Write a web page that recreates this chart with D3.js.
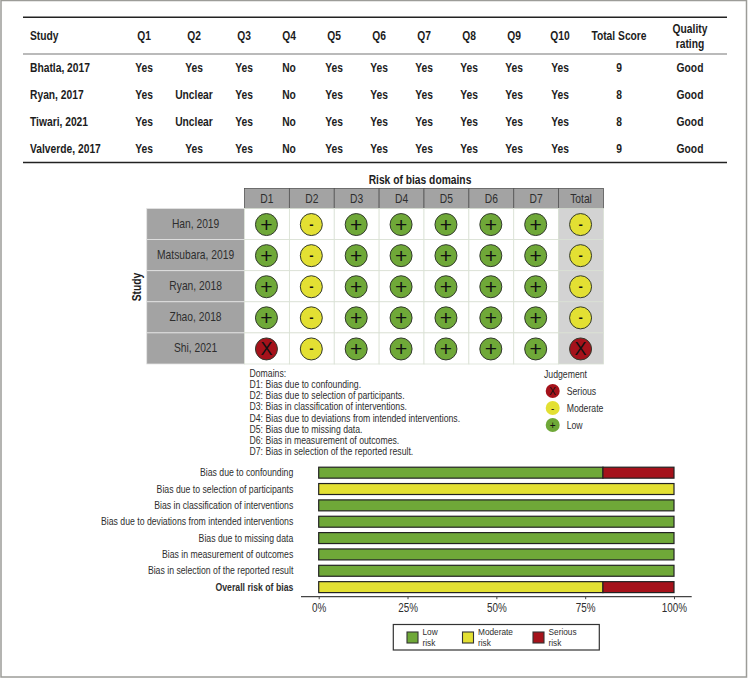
<!DOCTYPE html>
<html>
<head>
<meta charset="utf-8">
<script src="https://cdn.jsdelivr.net/npm/d3@7"></script>
<style>
  html, body { margin: 0; padding: 0; background: #fff; }
  svg { display: block; }
  text { font-family: "Liberation Sans", sans-serif; }
</style>
</head>
<body>
<svg id="chart" width="750" height="678"></svg>
<script>
// Top table
const tableColumns = ['Study', 'Q1', 'Q2', 'Q3', 'Q4', 'Q5', 'Q6', 'Q7', 'Q8', 'Q9', 'Q10', 'Total Score', 'Quality rating'];
const tableRows = [
  ['Bhatla, 2017', 'Yes', 'Yes', 'Yes', 'No', 'Yes', 'Yes', 'Yes', 'Yes', 'Yes', 'Yes', '9', 'Good'],
  ['Ryan, 2017', 'Yes', 'Unclear', 'Yes', 'No', 'Yes', 'Yes', 'Yes', 'Yes', 'Yes', 'Yes', '8', 'Good'],
  ['Tiwari, 2021', 'Yes', 'Unclear', 'Yes', 'No', 'Yes', 'Yes', 'Yes', 'Yes', 'Yes', 'Yes', '8', 'Good'],
  ['Valverde, 2017', 'Yes', 'Yes', 'Yes', 'No', 'Yes', 'Yes', 'Yes', 'Yes', 'Yes', 'Yes', '9', 'Good']
];
const tableColCenters = [30, 144, 194, 244, 289, 334, 379, 424, 469, 514, 560, 619, 690];

// Traffic light plot
const domains = ['D1', 'D2', 'D3', 'D4', 'D5', 'D6', 'D7', 'Total'];
const studies = ['Han, 2019', 'Matsubara, 2019', 'Ryan, 2018', 'Zhao, 2018', 'Shi, 2021'];
const judgements = [
  ['L', 'M', 'L', 'L', 'L', 'L', 'L', 'M'],
  ['L', 'M', 'L', 'L', 'L', 'L', 'L', 'M'],
  ['L', 'M', 'L', 'L', 'L', 'L', 'L', 'M'],
  ['L', 'M', 'L', 'L', 'L', 'L', 'L', 'M'],
  ['S', 'M', 'L', 'L', 'L', 'L', 'L', 'S']
];
const domainNotes = [
  'Domains:',
  'D1: Bias due to confounding.',
  'D2: Bias due to selection of participants.',
  'D3: Bias in classification of interventions.',
  'D4: Bias due to deviations from intended interventions.',
  'D5: Bias due to missing data.',
  'D6: Bias in measurement of outcomes.',
  'D7: Bias in selection of the reported result.'
];
const judgementKeys = ['S', 'M', 'L'];
const judgementNames = ['Serious', 'Moderate', 'Low'];

// Summary bars
const biasLabels = [
  'Bias due to confounding',
  'Bias due to selection of participants',
  'Bias in classification of interventions',
  'Bias due to deviations from intended interventions',
  'Bias due to missing data',
  'Bias in measurement of outcomes',
  'Bias in selection of the reported result',
  'Overall risk of bias'
];
const lowRisk = [80, 0, 100, 100, 100, 100, 100, 0];
const moderateRisk = [0, 100, 0, 0, 0, 0, 0, 80];
const seriousRisk = [20, 0, 0, 0, 0, 0, 0, 20];
const percentTicks = [0, 25, 50, 75, 100];
const riskNames = ['Low', 'Moderate', 'Serious'];

const GREEN = '#6fa838', YELLOW = '#e3e033', RED = '#a5121b', INK = '#1c1c1c', SOFT = '#2e2e2e';
const judgementColor = d3.scaleOrdinal().domain(['L', 'M', 'S']).range([GREEN, YELLOW, RED]);
const judgementSymbol = { L: '+', M: '-', S: 'X' };

const svg = d3.select('#chart');

// outer frame
svg.append('rect')
  .attr('x', 1).attr('y', 0.5).attr('width', 745.5).attr('height', 676.5)
  .attr('fill', '#fff').attr('stroke', '#9c9c98').attr('stroke-width', 1.5);

// ---- table ----
const table = svg.append('g').attr('font-size', 13).attr('font-weight', 700).attr('fill', INK);
const rowY = d3.scalePoint().domain(d3.range(tableRows.length)).range([68, 149]);

[[17.3, 1.5, '#222'], [54, 1.2, '#777'], [162.5, 1.5, '#222']].forEach(([y, w, c]) => {
  table.append('line').attr('x1', 23).attr('x2', 727).attr('y1', y).attr('y2', y)
    .attr('stroke', c).attr('stroke-width', w);
});

tableColumns.forEach((name, i) => {
  const t = table.append('text')
    .attr('x', tableColCenters[i])
    .attr('text-anchor', i === 0 ? 'start' : 'middle');
  if (name === 'Quality rating') {
    t.append('tspan').attr('x', tableColCenters[i]).attr('y', 33).text('Quality');
    t.append('tspan').attr('x', tableColCenters[i]).attr('y', 48).text('rating');
  } else {
    t.attr('y', 40).text(name);
  }
});

tableRows.forEach((row, r) => {
  table.selectAll(null).data(row).join('text')
    .attr('x', (d, i) => tableColCenters[i])
    .attr('y', rowY(r) + 3.8)
    .attr('text-anchor', (d, i) => i === 0 ? 'start' : 'middle')
    .text(d => d);
});

// ---- traffic light plot ----
const tx = d3.scaleBand().domain(domains).range([244.5, 603.5]);
const ty = d3.scaleBand().domain(studies).range([208.5, 364]);
const traffic = svg.append('g');

traffic.append('text').attr('x', 420).attr('y', 183.5).attr('text-anchor', 'middle')
  .attr('font-size', 13).attr('font-weight', 700).attr('fill', INK).text('Risk of bias domains');
traffic.append('text').attr('transform', 'translate(141,287) rotate(-90)').attr('text-anchor', 'middle')
  .attr('font-size', 13).attr('font-weight', 700).attr('fill', INK).text('Study');

// domain header
traffic.selectAll('.head').data(domains).join('rect').attr('class', 'head')
  .attr('x', d => tx(d)).attr('y', 188.5).attr('width', tx.bandwidth()).attr('height', 20)
  .attr('fill', '#a3a3a3').attr('stroke', '#555').attr('stroke-width', 0.8);
traffic.selectAll('.headLabel').data(domains).join('text').attr('class', 'headLabel')
  .attr('x', d => tx(d) + tx.bandwidth() / 2).attr('y', 203)
  .attr('text-anchor', 'middle').attr('font-size', 13).attr('fill', SOFT).text(d => d);

// study labels
traffic.selectAll('.study').data(studies).join('rect').attr('class', 'study')
  .attr('x', 146.7).attr('y', d => ty(d)).attr('width', tx.range()[0] - 146.7).attr('height', ty.bandwidth())
  .attr('fill', '#a3a3a3').attr('stroke', '#e4e4e4').attr('stroke-width', 0.8);
traffic.selectAll('.studyLabel').data(studies).join('text').attr('class', 'studyLabel')
  .attr('x', (146.7 + tx.range()[0]) / 2).attr('y', d => ty(d) + ty.bandwidth() / 2 + 4)
  .attr('text-anchor', 'middle').attr('font-size', 13).attr('fill', SOFT).text(d => d);

const cells = judgements.flatMap((row, r) => row.map((j, c) => ({ study: studies[r], domain: domains[c], j })));

traffic.selectAll('.cell').data(cells).join('rect').attr('class', 'cell')
  .attr('x', d => tx(d.domain)).attr('y', d => ty(d.study))
  .attr('width', tx.bandwidth()).attr('height', ty.bandwidth())
  .attr('fill', d => d.domain === 'Total' ? '#d3d3d3' : '#fff')
  .attr('stroke', '#d9e0d4').attr('stroke-width', 0.8);

traffic.selectAll('.dot').data(cells).join('circle').attr('class', 'dot')
  .attr('cx', d => tx(d.domain) + tx.bandwidth() / 2 - 0.5).attr('cy', d => ty(d.study) + ty.bandwidth() / 2 + 0.5)
  .attr('r', 11)
  .attr('fill', d => judgementColor(d.j)).attr('stroke', '#333a2e').attr('stroke-width', 1);

traffic.selectAll('.symbol').data(cells).join('text').attr('class', 'symbol')
  .attr('x', d => tx(d.domain) + tx.bandwidth() / 2 - 0.5)
  .attr('y', d => ty(d.study) + ty.bandwidth() / 2 + (d.j === 'L' ? 7.5 : d.j === 'S' ? 7 : 4.5))
  .attr('text-anchor', 'middle').attr('fill', '#111')
  .attr('font-size', d => d.j === 'L' ? 21 : d.j === 'S' ? 18 : 13)
  .attr('font-weight', d => d.j === 'M' ? 700 : 400)
  .text(d => judgementSymbol[d.j]);

// domain notes
const noteY = d3.scalePoint().domain(domainNotes).range([377, 455]);
svg.selectAll('.note').data(domainNotes).join('text').attr('class', 'note')
  .attr('x', 249.5).attr('y', d => noteY(d))
  .attr('font-size', 11).attr('fill', SOFT).text(d => d);

// judgement legend
const legendY = d3.scalePoint().domain(judgementKeys).range([391, 425]);
svg.append('text').attr('x', 544).attr('y', 378).attr('font-size', 11).attr('fill', SOFT).text('Judgement');
svg.selectAll('.jdot').data(judgementKeys).join('circle').attr('class', 'jdot')
  .attr('cx', 552.7).attr('cy', d => legendY(d)).attr('r', 7).attr('fill', d => judgementColor(d));
svg.selectAll('.jsym').data(judgementKeys).join('text').attr('class', 'jsym')
  .attr('x', 552.7).attr('y', d => legendY(d) + 3.5)
  .attr('text-anchor', 'middle')
  .attr('font-size', 10).attr('fill', '#111').text(d => judgementSymbol[d]);
svg.selectAll('.jname').data(judgementKeys).join('text').attr('class', 'jname')
  .attr('x', 566.7).attr('y', d => legendY(d) + 4)
  .attr('font-size', 11).attr('fill', SOFT).text((d, i) => judgementNames[i]);

// ---- summary bars ----
const bx = d3.scaleLinear().domain([0, 100]).range([318.7, 674]);
const by = d3.scaleBand().domain(biasLabels).range([464.5, 595.3]).paddingInner(0.33).paddingOuter(0.165);
const barRows = biasLabels.map((label, i) => ({ label, Low: lowRisk[i], Moderate: moderateRisk[i], Serious: seriousRisk[i] }));
const stacked = d3.stack().keys(riskNames)(barRows);
const riskColor = d3.scaleOrdinal().domain(riskNames).range([GREEN, YELLOW, RED]);

const bars = svg.append('g');
bars.selectAll('g').data(stacked).join('g')
  .attr('fill', d => riskColor(d.key))
  .selectAll('rect').data(d => d.filter(s => s[1] > s[0])).join('rect')
  .attr('x', d => bx(d[0])).attr('y', d => by(d.data.label))
  .attr('width', d => bx(d[1]) - bx(d[0])).attr('height', by.bandwidth())
  .attr('stroke', '#222').attr('stroke-width', 1.2);

svg.selectAll('.biasLabel').data(biasLabels).join('text').attr('class', 'biasLabel')
  .attr('x', 293.3).attr('y', d => by(d) + by.bandwidth() / 2 + 3.5)
  .attr('text-anchor', 'end').attr('font-size', 11).attr('fill', SOFT)
  .attr('font-weight', d => d === 'Overall risk of bias' ? 700 : 400)
  .text(d => d);

const axis = svg.append('g').attr('transform', 'translate(0,596.7)')
  .call(d3.axisBottom(bx).tickValues(percentTicks).tickFormat(d => d + '%').tickSize(2.5).tickPadding(3.5));
axis.select('.domain').remove();
axis.append('line').attr('x1', 301).attr('x2', 691.7).attr('stroke', '#444').attr('stroke-width', 1.2);
axis.selectAll('.tick line').attr('stroke', '#444');
axis.selectAll('.tick text').attr('font-size', 12.5).attr('fill', SOFT);

// risk legend
svg.append('rect').attr('x', 393.3).attr('y', 624.5).attr('width', 206).attr('height', 25.5)
  .attr('fill', '#fff').attr('stroke', '#333').attr('stroke-width', 1.2);
const riskX = d3.scaleOrdinal().domain(riskNames).range([407, 462.5, 533]);
const riskItems = svg.selectAll('.riskItem').data(riskNames).join('g').attr('class', 'riskItem')
  .attr('transform', d => `translate(${riskX(d)},632)`);
riskItems.append('rect').attr('width', 11).attr('height', 11)
  .attr('fill', d => riskColor(d)).attr('stroke', '#333').attr('stroke-width', 1.1);
const riskText = riskItems.append('text').attr('font-size', 9).attr('fill', SOFT);
riskText.append('tspan').attr('x', 15.5).attr('y', 3).text(d => d);
riskText.append('tspan').attr('x', 15.5).attr('y', 13.5).text('risk');

// no narrow font installed, so squeeze the text to the reference's condensed look
function squeeze(el, factor) {
  const len = el.getComputedTextLength();
  d3.select(el).attr('textLength', len * factor).attr('lengthAdjust', 'spacingAndGlyphs');
}
svg.selectAll('text').filter(function() {
  const c = this.getAttribute('class');
  return c !== 'symbol' && c !== 'jsym' && !this.querySelector('tspan');
}).each(function() { squeeze(this, 0.79); });
table.selectAll('tspan').each(function() { squeeze(this, 0.79); });
riskText.selectAll('tspan').each(function() { squeeze(this, 0.92); });
</script>
</body>
</html>
